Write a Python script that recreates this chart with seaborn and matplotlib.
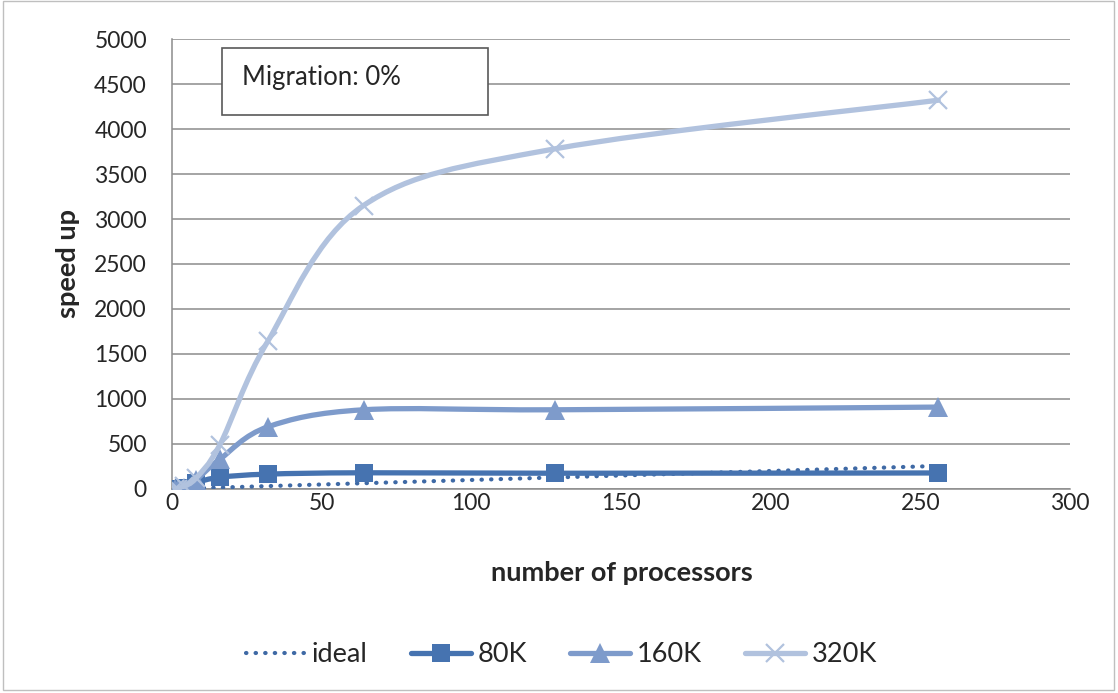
import numpy as np
import pandas as pd
import matplotlib.pyplot as plt
import seaborn as sns
from matplotlib.path import Path
from matplotlib.patches import PathPatch, Rectangle
from matplotlib.lines import Line2D

# Data
procs = [1, 2, 4, 8, 16, 32, 64, 128, 256]
ideal = [1, 2, 4, 8, 16, 32, 64, 128, 256]
k80 = [1, 2, 8, 70, 130, 165, 180, 175, 178]
k160 = [1, 2, 15, 100, 330, 690, 880, 880, 910]
k320 = [1, 4, 30, 120, 490, 1640, 3150, 3780, 4320]

series_names = ["ideal", "80K", "160K", "320K"]
colors = {"ideal": "#3E69A5", "80K": "#4673B0", "160K": "#7E9BCB", "320K": "#B1C2DE"}

df = pd.DataFrame({"processors": procs * 4,
                   "speedup": ideal + k80 + k160 + k320,
                   "series": [s for s in series_names for _ in procs]})

sns.set_style("white")
plt.rcParams['font.family'] = ['Lato', 'DejaVu Sans']

fig = plt.figure(figsize=(11.18, 6.93), dpi=100)
ax = fig.add_axes([0.1538, 0.2944, 0.8032, 0.6493])


def smooth_path(xs, ys):
    # Excel-style smoothed line: cubic Bezier through the points
    p = np.column_stack([xs, ys]).astype(float)
    p = np.vstack([p[0], p, p[-1]])
    verts = [p[1]]
    codes = [Path.MOVETO]
    for i in range(1, len(p) - 2):
        c1 = p[i] + (p[i + 1] - p[i - 1]) / 6
        c2 = p[i + 1] - (p[i + 2] - p[i]) / 6
        verts += [c1, c2, p[i + 1]]
        codes += [Path.CURVE4] * 3
    return Path(verts, codes)


# ideal: dotted line
sns.lineplot(data=df[df.series == "ideal"], x="processors", y="speedup",
             color=colors["ideal"], lw=3, linestyle=(0, (0.1, 2.2)),
             ax=ax, legend=False, zorder=3)
ax.lines[-1].set_dash_capstyle("round")

styles = {"80K": dict(marker="s", ms=13, mew=0),
          "160K": dict(marker="^", ms=14, mew=0),
          "320K": dict(marker="x", ms=13, mew=1.6)}

for i, name in enumerate(["80K", "160K", "320K"]):
    sub = df[df.series == name]
    patch = PathPatch(smooth_path(sub.processors, sub.speedup), fill=False,
                      edgecolor=colors[name], lw=3.8, capstyle="round",
                      zorder=4 + i)
    ax.add_patch(patch)
    st = styles[name]
    sns.lineplot(data=sub, x="processors", y="speedup", color=colors[name],
                 linestyle="none", marker=st["marker"], markersize=st["ms"],
                 markeredgewidth=st["mew"], markeredgecolor=colors[name],
                 ax=ax, legend=False, zorder=4 + i)

ax.set_xlim(0, 300)
ax.set_ylim(0, 5000)
ax.set_xticks(range(0, 301, 50))
ax.set_yticks(range(0, 5001, 500))
ax.grid(axis="y", color="#8C8C8C", lw=1.1)
ax.grid(axis="x", visible=False)
ax.set_axisbelow(True)
for s in ["top", "right"]:
    ax.spines[s].set_visible(False)
for s in ["left", "bottom"]:
    ax.spines[s].set_color("#8C8C8C")
    ax.spines[s].set_linewidth(1.1)
ax.tick_params(axis="both", direction="out", length=6, width=1.1,
               color="#8C8C8C", labelsize=16.5)
ax.tick_params(axis="y", pad=12)
ax.tick_params(axis="x", pad=-3)
ax.set_xlabel("number of processors", fontsize=19.5, fontweight="bold")
ax.set_ylabel("speed up", fontsize=19.5, fontweight="bold")
ax.xaxis.set_label_coords(0.501, -0.16)
ax.yaxis.set_label_coords(-0.102, 0.5)

# annotation box
ax.add_patch(Rectangle((0.0557, 0.831), 0.296, 0.149, transform=ax.transAxes,
                       facecolor="white", edgecolor="#595959", lw=1.2, zorder=5))
ax.text(0.078, 0.915, "Migration: 0%", transform=ax.transAxes, fontsize=18.5,
        va="center", ha="left", zorder=6)

handles = [Line2D([], [], color=colors["ideal"], lw=3, linestyle=(0, (0.1, 2.2)),
                  dash_capstyle="round"),
           Line2D([], [], color=colors["80K"], lw=3.8, marker="s", ms=13, mew=0),
           Line2D([], [], color=colors["160K"], lw=3.8, marker="^", ms=14, mew=0),
           Line2D([], [], color=colors["320K"], lw=3.8, marker="x", ms=13, mew=1.6)]
fig.legend(handles, series_names, loc="center", bbox_to_anchor=(0.502, 0.055),
           ncol=4, frameon=False, fontsize=19.5, handlelength=2.2,
           columnspacing=1.6, handletextpad=0.25)

fig.add_artist(Rectangle((0.003, 0.004), 0.993, 0.995, transform=fig.transFigure,
                         fill=False, edgecolor="#BFBFBF", lw=1))

fig.savefig("out.png", dpi=100)
